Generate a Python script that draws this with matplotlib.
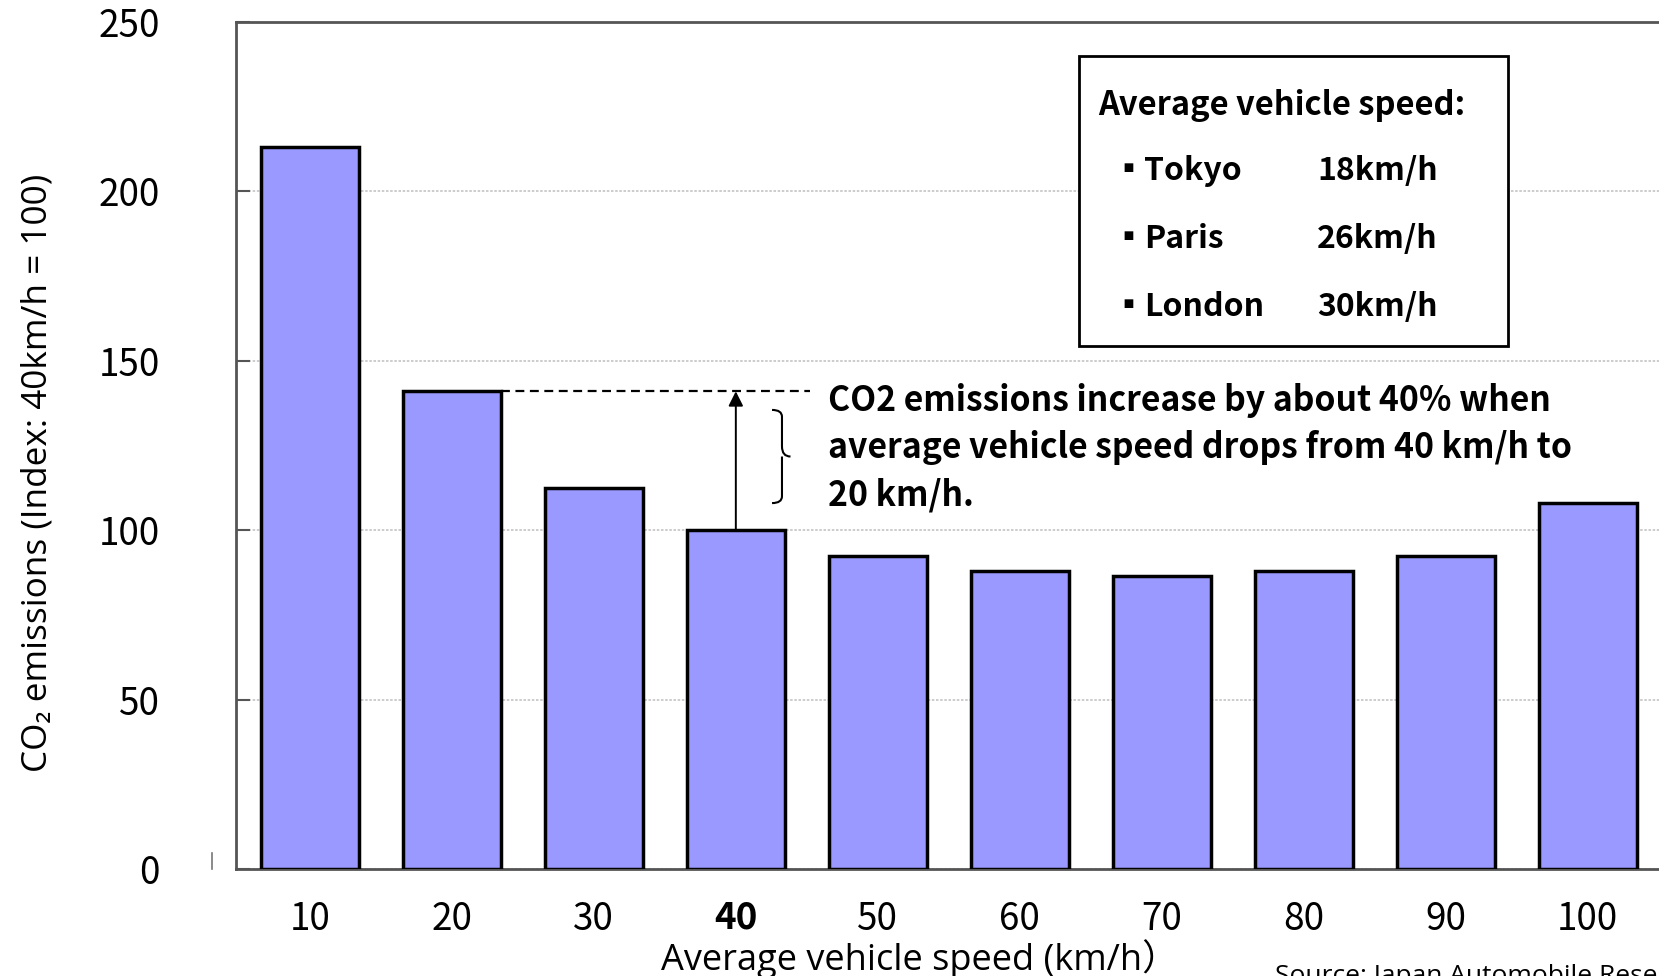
import matplotlib.pyplot as plt
from matplotlib.patches import Rectangle, PathPatch
from matplotlib.path import Path
from matplotlib.lines import Line2D

# CO2 emission index by average speed (40 km/h = 100)
speeds = [10, 20, 30, 40, 50, 60, 70, 80, 90, 100]
co2_index = [213, 141, 112.5, 100, 92.5, 88, 86.5, 88, 92.5, 108]

cities = ['Tokyo', 'Paris', 'London']
city_speeds = [18, 26, 30]

W, H = 1659, 976
def fx(x):
    return x / W
def fy(y):
    return 1 - y / H

gothic = ['Noto Sans CJK JP', 'DejaVu Sans']
latin = ['Open Sans', 'Noto Sans CJK JP', 'DejaVu Sans']

fig = plt.figure(figsize=(W / 100, H / 100), dpi=100)
fig.set_facecolor('white')
ax = fig.add_axes([fx(236), fy(869), (1673 - 236) / W, (869 - 22) / H])

xpos = list(range(len(speeds)))
ax.bar(xpos, co2_index, width=0.69, color='#9999ff', edgecolor='black',
       linewidth=2.5, zorder=3)

ax.set_xlim(-0.52, 9.6)
ax.set_ylim(0, 250)
ax.set_yticks([0, 50, 100, 150, 200, 250])
ax.yaxis.grid(True, color='#c4c4c4', linestyle=(0, (1.5, 1)), linewidth=1.2, zorder=0)
ax.set_axisbelow(True)

for side in ['left', 'bottom', 'top']:
    ax.spines[side].set_color('#555555')
    ax.spines[side].set_linewidth(2)
ax.spines['right'].set_visible(False)

ax.tick_params(axis='y', direction='in', length=10, width=1.5, color='#555555',
               pad=55, labelsize=26.5)
ax.tick_params(axis='x', length=0, pad=22, labelsize=26.5)
ax.set_xticks(xpos)
ax.set_xticklabels([str(s) for s in speeds])
for lab in ax.get_xticklabels() + ax.get_yticklabels():
    lab.set_family(gothic)
ax.get_xticklabels()[3].set_fontweight('bold')

# dashed reference level from the 20 km/h bar, arrow up from the 40 km/h bar
ax.plot([1 + 0.345, 3.52], [co2_index[1], co2_index[1]], color='black',
        linestyle=(0, (4, 2.5)), linewidth=1.6, zorder=4)
ax.annotate('', xy=(3, co2_index[1]), xytext=(3, co2_index[3]),
            arrowprops=dict(arrowstyle='-|>', color='black', lw=1.4,
                            mutation_scale=22, shrinkA=0, shrinkB=0),
            zorder=4)

# curly brace next to the annotation text
bx0, bx1 = 3.255, 3.385
ytop, ybot = 135.5, 108
ymid = (ytop + ybot) / 2
verts = [(bx0, ytop), (bx0 + 0.07, ytop), (bx0 + 0.07, ytop - 2), (bx0 + 0.07, ytop - 5),
         (bx0 + 0.07, ymid + 3), (bx0 + 0.07, ymid), (bx1, ymid),
         (bx0 + 0.07, ymid), (bx0 + 0.07, ymid - 3), (bx0 + 0.07, ybot + 5),
         (bx0 + 0.07, ybot + 2), (bx0 + 0.07, ybot), (bx0, ybot)]
codes = [Path.MOVETO, Path.CURVE3, Path.CURVE3, Path.LINETO,
         Path.LINETO, Path.CURVE3, Path.CURVE3,
         Path.MOVETO, Path.CURVE3, Path.CURVE3,
         Path.LINETO, Path.CURVE3, Path.CURVE3]
ax.add_patch(PathPatch(Path(verts, codes), facecolor='none', edgecolor='black',
                       linewidth=1.5, zorder=4))

note_lines = ['CO2 emissions increase by about 40% when',
              'average vehicle speed drops from 40 km/h to',
              '20 km/h.']
for line, yc in zip(note_lines, [400, 447.5, 495]):
    fig.text(fx(828), fy(yc), line, family=gothic, fontsize=24.3, fontweight='bold',
             va='center', ha='left')

# boxed list of average city speeds
ax.add_patch(Rectangle((fx(1079), fy(346)), (1508 - 1079) / W, (346 - 56) / H,
                       transform=fig.transFigure, facecolor='white',
                       edgecolor='black', linewidth=2, zorder=5, clip_on=False))
fig.text(fx(1098), fy(106), 'Average vehicle speed:', family=gothic, fontsize=23.5,
         fontweight='bold', va='center', ha='left', zorder=6)
for city, spd, yc in zip(cities, city_speeds, [171, 239, 307]):
    fig.text(fx(1112), fy(yc), '\u25aa', family=gothic, fontsize=23,
             va='center', ha='left', zorder=6)
    fig.text(fx(1144), fy(yc), city, family=gothic, fontsize=23,
             fontweight='bold', va='center', ha='left', zorder=6)
    fig.text(fx(1317), fy(yc), f'{spd}km/h', family=gothic, fontsize=23,
             fontweight='bold', va='center', ha='left', zorder=6)

fig.text(fx(38), fy(473), 'CO\u2082 emissions (Index: 40km/h = 100)', family=latin,
         fontsize=25.3, rotation=90, va='center', ha='center')
fig.text(fx(920), fy(970), 'Average vehicle speed (km/h\uff09', family=latin,
         fontsize=26, va='baseline', ha='center')
fig.text(fx(1275), fy(983), 'Source: Japan Automobile Research Institute',
         family=latin, fontsize=19, va='baseline', ha='left')

# small tick mark left of the origin
fig.add_artist(Line2D([fx(212), fx(212)], [fy(869), fy(853)], color='#777777',
                      linewidth=1.2))

fig.savefig('out.png', dpi=100)
